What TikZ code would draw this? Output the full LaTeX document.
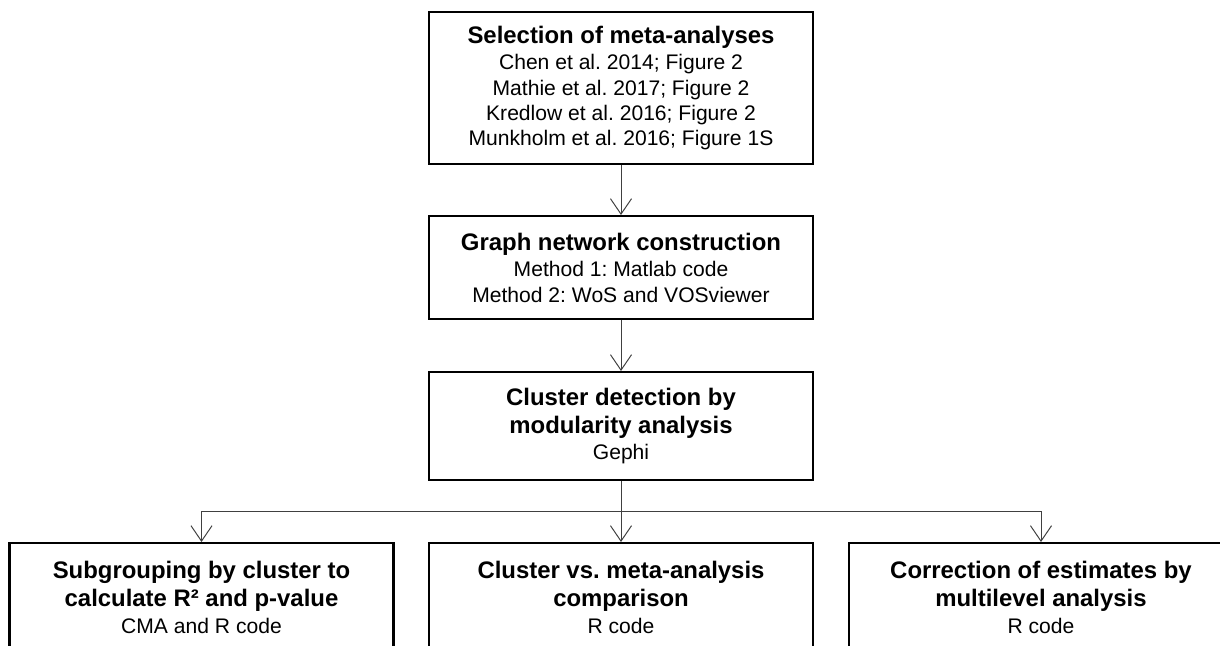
\documentclass[tikz,border=0pt]{standalone}
\usepackage{fontspec}
\setmainfont{Liberation Sans}
\usetikzlibrary{arrows.meta,positioning}
\frenchspacing

\newcommand{\headline}[1]{{\fontsize{17}{20}\selectfont\bfseries #1}}

\begin{document}
\begin{tikzpicture}[x=0.025cm,y=-0.025cm,
  box/.style={draw=black,line width=1.5pt,minimum width=273pt,align=center,inner sep=2pt,anchor=north,font=\fontsize{15}{18}\selectfont},
  flow/.style={->,>={Straight Barb[length=11pt,width=15pt]},line width=0.7pt,color=black!75}]
\useasboundingbox (0,0) rectangle (1220,645);
\begin{scope}
  \clip (0,0) rectangle (1220,645);
  % main column
  \node[box,minimum height=108pt] (select) at (621,11) {\headline{Selection of meta-analyses}\\[1pt]
    Chen et al. 2014; Figure 2\\Mathie et al. 2017; Figure 2\\Kredlow et al. 2016; Figure 2\\Munkholm et al. 2016; Figure 1S};
  \node[box,minimum height=73.3pt] (graph) at (621,215) {\headline{Graph network construction}\\[1pt]
    Method 1: Matlab code\\Method 2: WoS and VOSviewer};
  \node[box,minimum height=76.8pt] (cluster) at (621,371) {\headline{Cluster detection by}\\[2pt]
    \headline{modularity analysis}\\[1pt] Gephi};
  % three outcomes
  \node[box,minimum height=76.8pt] (subgroup) at (201.5,542) {\headline{Subgrouping by cluster to}\\[2pt]
    \headline{calculate R² and p-value}\\[1pt] CMA and R code};
  \node[box,minimum height=76.8pt] (compare) at (621,542) {\headline{Cluster vs. meta-analysis}\\[2pt]
    \headline{comparison}\\[1pt] R code};
  \node[box,minimum height=76.8pt] (correct) at (1041,542) {\headline{Correction of estimates by}\\[2pt]
    \headline{multilevel analysis}\\[1pt] R code};
\end{scope}
\coordinate (split) at (621,511);
\draw[flow] (select) -- (graph);
\draw[flow] (graph) -- (cluster);
\draw[flow] (cluster) -- (compare);
\draw[flow] (split) -| (subgroup.north);
\draw[flow] (split) -| (correct.north);
\end{tikzpicture}
\end{document}
